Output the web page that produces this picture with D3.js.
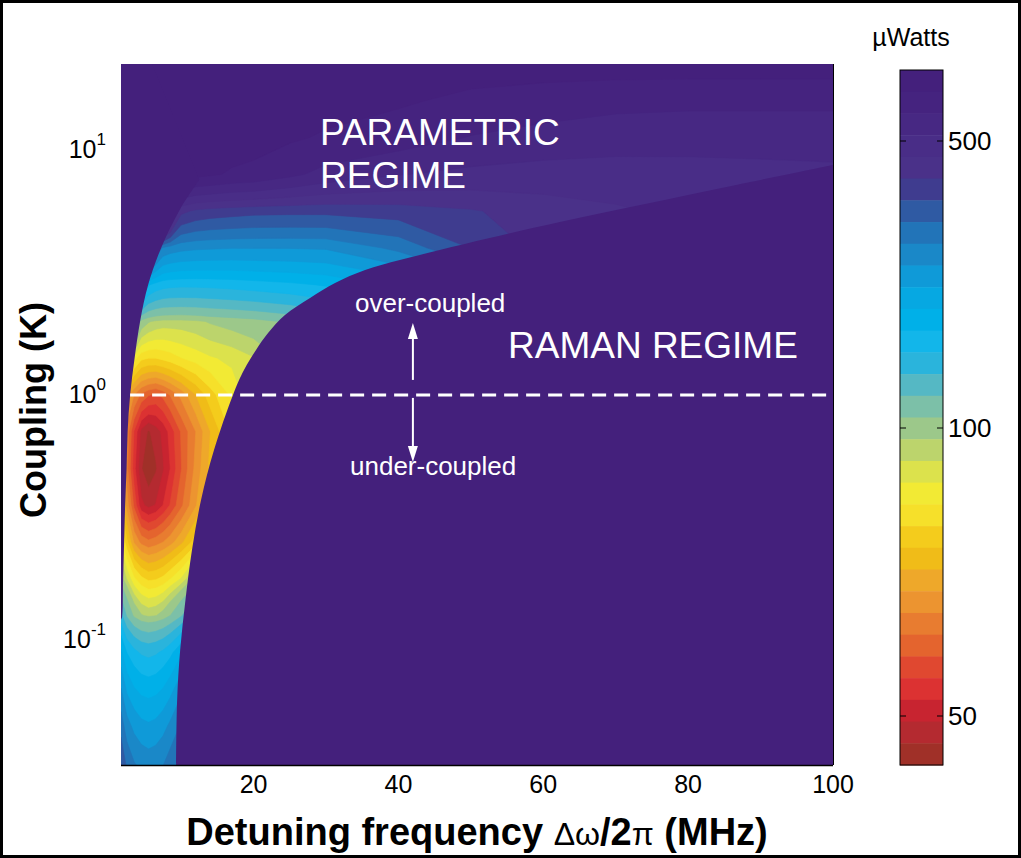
<!DOCTYPE html>
<html><head><meta charset="utf-8">
<script src="https://cdn.jsdelivr.net/npm/d3@7"></script>
<style>body{margin:0;background:#fff}svg{display:block}text{font-family:"Liberation Sans",Arial,Helvetica,sans-serif}</style>
</head><body>
<svg id="chart" width="1021" height="858"></svg>
<script>
// ---------------- data ----------------
// detuning grid (MHz), columns of the power map
const detuning = [1.7, 2.5, 3.5, 4.5, 5.5, 6.5, 7.5, 8.5, 10, 12, 14, 17, 20, 25, 30, 40, 50, 60, 70, 80, 90, 100];
// log10 of coupling K, rows of the power map (top -> bottom)
const logCoupling = [1.35, 1.2, 1.05, 0.9, 0.75, 0.6, 0.45, 0.3, 0.15, 0, -0.15, -0.3, -0.45, -0.6, -0.75, -0.9, -1.05, -1.2, -1.35, -1.51];
const power = [
  [760,760,760,760,760,760,760,760,760,760,750,740,730,720,710,700,700,700,700,700,700,700],
  [760,760,760,760,760,760,760,760,760,740,730,720,710,700,690,670,640,620,605,600,600,600],
  [760,760,760,760,760,760,760,750,740,720,710,700,690,670,650,620,580,560,545,540,540,540],
  [760,760,760,760,760,760,760,730,700,680,670,650,640,600,560,520,500,490,490,495,500,505],
  [760,760,760,760,760,760,740,600,420,395,385,378,372,370,370,380,400,430,450,470,480,490],
  [560,520,480,440,380,320,275,265,258,254,252,250,250,250,252,290,360,420,450,470,480,490],
  [400,320,260,210,175,165,160,158,157,157,158,160,163,168,175,200,250,320,400,470,500,520],
  [180,150,125,102,98,96,95,95,95,96,98,100,102,108,118,150,200,280,380,480,560,600],
  [120,100,85,80,79,79,80,81,83,85,87,89,92,100,115,150,220,320,450,560,620,650],
  [75,68,64,60,58,57,58.5,61,65,71,77,84,92,105,130,200,300,420,550,650,700,700],
  [70,63,54.5,48.5,46.5,48,50,53,58,64,71,80,95,120,160,240,350,500,650,700,700,700],
  [70,62,53,47,45,46.5,49,52,57.5,65,72,85,105,140,190,280,400,550,700,700,700,700],
  [74,66,57,50,48.5,49.5,52,55,60,67,75,92,120,170,240,350,500,650,700,700,700,700],
  [85,76,67,63,61.5,62.5,64,66,70,77,90,120,160,230,320,450,600,700,700,700,700,700],
  [100,92,84,80,78,78.5,80,83,88,100,125,170,230,320,420,550,700,700,700,700,700,700],
  [140,118,104,98,96,97,100,106,118,140,175,230,300,400,500,600,700,700,700,700,700,700],
  [200,172,158,150,147,150,156,166,190,230,280,340,400,480,560,640,700,700,700,700,700,700],
  [250,215,197,188,185,188,196,210,240,285,330,390,450,520,580,640,700,700,700,700,700,700],
  [300,262,240,228,224,228,238,255,285,330,380,430,480,530,580,640,700,700,700,700,700,700],
  [360,310,285,272,266,270,280,300,330,380,420,460,500,550,600,650,700,700,700,700,700,700]
];
// edge of the Raman regime (MHz, K), bottom -> right
const ramanEdge = [[9.31,0.0309],[9.45,0.0569],[9.87,0.091],[10.6,0.1456],[11.5,0.2328],[12.75,0.3724],[14.54,0.5957],[17.16,1.0],[18.68,1.263],[20.34,1.524],[22.0,1.788],[24.34,2.118],[27.8,2.484],[31.25,2.86],[35.4,3.231],[40.2,3.549],[45.7,3.898],[52.6,4.364],[62.3,5.072],[73.4,5.95],[85.8,7.11],[100,8.67]];
// left edge of the computed region (MHz, K), bottom -> top
const leftEdge = [[1.7,0.121],[1.85,0.124],[1.99,0.176],[2.13,0.251],[2.27,0.355],[2.47,0.503],[2.61,0.706],[2.96,1.0],[3.58,1.416],[4.34,2.0],[5.44,2.81],[7.24,3.98],[9.73,5.64],[12.5,7.55],[6.0,22.4]];
const xTicks = [20, 40, 60, 80, 100];
const yTickExp = [1, 0, -1];
const cbTicks = [500, 100, 50];
const cbDomain = [50, 100, 500];
const xDomain = [1.7, 100];
const kDomain = [0.0309, 22.4];
// colormap bands, top of colour bar -> bottom
const bandColors = ["#44207c","#45237f","#472883","#492d87","#4a3189","#3f3c8f","#2f5aa3","#2274b8","#1a88c8","#0f9ad8","#06a8e2","#00b0e8","#12b6ea","#2ab4dc","#55b8c4","#7cc0a8","#9cc88a","#bcd46c","#dce24c","#f2ea34","#f6e02a","#f4cc1c","#f0bc18","#eea82a","#ec9430","#e87c30","#e4642e","#e04830","#dc3232","#c82430","#b42a30","#a03028"];

// ---------------- layout ----------------
const P = {l:121, r:833, t:64, b:765};
const CB = {l:900, r:943, t:70, b:765};
const svg = d3.select("#chart");
const x = d3.scaleLinear().domain(xDomain).range([P.l, P.r]);
const y = d3.scaleLog().domain(kDomain).range([P.b, P.t]);
const cbScale = d3.scaleLog().domain(cbDomain).range([716, 428, 141]);

svg.append("rect").attr("x",1.5).attr("y",1.5).attr("width",1018).attr("height",855)
  .attr("fill","#fff").attr("stroke","#000").attr("stroke-width",3);

// colour thresholds from the colour-bar scale
const N = bandColors.length;
const bandY = d3.range(N+1).map(k => CB.t + k*(CB.b-CB.t)/N);
const thr = d3.range(1, N).map(k => ({v: cbScale.invert(bandY[k]), color: bandColors[k-1]})).reverse();

// ---------------- heat map ----------------
const n = detuning.length, m = logCoupling.length;
const flat = power.flat();
const colIdx = d3.scaleLinear().domain(d3.range(n)).range(detuning).clamp(true);
const rowIdx = d3.scaleLinear().domain(d3.range(m)).range(logCoupling).clamp(true);
const proj = d3.geoTransform({point(gx, gy){
  this.stream.point(x(colIdx(gx-0.5)), y(Math.pow(10, rowIdx(gy-0.5))));
}});
const path = d3.geoPath(proj);
const contours = d3.contours().size([n, m]).thresholds(thr.map(d=>d.v))(flat);

svg.append("clipPath").attr("id","plotclip").append("rect")
  .attr("x",P.l).attr("y",P.t).attr("width",P.r-P.l).attr("height",P.b-P.t);
const g = svg.append("g").attr("clip-path","url(#plotclip)");
g.append("rect").attr("x",P.l).attr("y",P.t).attr("width",P.r-P.l).attr("height",P.b-P.t)
  .attr("fill", bandColors[N-1]);
g.selectAll("path.c").data(contours).join("path").attr("class","c")
  .attr("d", path).attr("fill", (d,i) => thr[i].color).attr("stroke", (d,i)=>thr[i].color).attr("stroke-width",0.6);

// out-of-regime regions
const line = d3.line().x(d=>x(d[0])).y(d=>y(d[1])).curve(d3.curveCatmullRom);
g.append("path").attr("fill", bandColors[0])
  .attr("d", line(ramanEdge) + `L${x(xDomain[1])},${y(kDomain[0])}Z`);
g.append("path").attr("fill", bandColors[0])
  .attr("d", line(leftEdge.slice(0,-1)) + `L${x(leftEdge[leftEdge.length-1][0])},${y(kDomain[1])}L${x(xDomain[0])},${y(kDomain[1])}Z`);

// critical coupling line
g.append("line").attr("x1", x(2.96)).attr("x2", x(100)).attr("y1", y(1)).attr("y2", y(1))
  .attr("stroke","#fff").attr("stroke-width",3).attr("stroke-dasharray","14 8");

// arrows
const ax = x(42.0);
function arrow(y0, y1){
  const dir = Math.sign(y1-y0);
  g.append("line").attr("x1",ax).attr("x2",ax).attr("y1",y0).attr("y2",y1-dir*14)
    .attr("stroke","#fff").attr("stroke-width",2);
  g.append("path").attr("fill","#fff")
    .attr("d",`M${ax},${y1}L${ax-5},${y1-dir*16}L${ax+5},${y1-dir*16}Z`);
}
arrow(y(1)-15, y(1)-72);
arrow(y(1)+3, y(1)+67);

// annotations
const ann = [
  {t:"PARAMETRIC", x:320, y:145, s:37},
  {t:"REGIME", x:320, y:188, s:37},
  {t:"RAMAN REGIME", x:508, y:358, s:37},
  {t:"over-coupled", x:355, y:312, s:26},
  {t:"under-coupled", x:350, y:475, s:26}
];
svg.selectAll("text.ann").data(ann).join("text").attr("class","ann")
  .attr("x",d=>d.x).attr("y",d=>d.y).attr("font-size",d=>d.s).attr("fill","#fff").text(d=>d.t);

// axis frame
svg.append("line").attr("x1",P.l).attr("x2",P.r).attr("y1",P.b+0.5).attr("y2",P.b+0.5).attr("stroke","#000").attr("stroke-width",1.5);
svg.append("line").attr("x1",P.r+0.5).attr("x2",P.r+0.5).attr("y1",P.t).attr("y2",P.b).attr("stroke","#000").attr("stroke-width",1);

// x ticks
svg.selectAll("text.xt").data(xTicks).join("text").attr("class","xt")
  .attr("x",d=>x(d)).attr("y",793).attr("text-anchor","middle").attr("font-size",25).text(d=>d);
// y ticks
const yt = svg.selectAll("text.yt").data(yTickExp).join("text").attr("class","yt")
  .attr("x",106).attr("y",d=>y(Math.pow(10,d))+8).attr("text-anchor","end").attr("font-size",25);
yt.append("tspan").text("10");
yt.append("tspan").attr("dy",-13).attr("font-size",17).text(d=>d);

// axis titles
const xl = svg.append("text").attr("x",477).attr("y",845).attr("text-anchor","middle")
  .attr("font-size",38).attr("font-weight","bold");
xl.append("tspan").text("Detuning frequency ");
xl.append("tspan").attr("font-weight","normal").attr("font-size",32).text("Δω");
xl.append("tspan").text("/2");
xl.append("tspan").attr("font-weight","normal").attr("font-size",32).text("π");
xl.append("tspan").text(" (MHz)");
svg.append("text").attr("transform","translate(46,410) rotate(-90)").attr("text-anchor","middle")
  .attr("font-size",36).attr("font-weight","bold").text("Coupling (K)");

// ---------------- colour bar ----------------
svg.selectAll("rect.cb").data(bandColors).join("rect").attr("class","cb")
  .attr("x",CB.l).attr("width",CB.r-CB.l).attr("y",(d,i)=>bandY[i]).attr("height",(d,i)=>bandY[i+1]-bandY[i]+0.5)
  .attr("fill",d=>d);
svg.append("rect").attr("x",CB.l).attr("y",CB.t).attr("width",CB.r-CB.l).attr("height",CB.b-CB.t)
  .attr("fill","none").attr("stroke","#000").attr("stroke-width",1);
cbTicks.forEach(v=>{
  const yy = cbScale(v);
  svg.append("line").attr("x1",CB.l).attr("x2",CB.l+6).attr("y1",yy).attr("y2",yy).attr("stroke","#000");
  svg.append("line").attr("x1",CB.r-6).attr("x2",CB.r).attr("y1",yy).attr("y2",yy).attr("stroke","#000");
  svg.append("text").attr("x",CB.r+5).attr("y",yy+9).attr("font-size",26).text(v);
});
const ul = svg.append("text").attr("x",911).attr("y",46).attr("text-anchor","middle").attr("font-size",25);
ul.append("tspan").text("µ");
ul.append("tspan").text("Watts");
</script>
</body></html>
